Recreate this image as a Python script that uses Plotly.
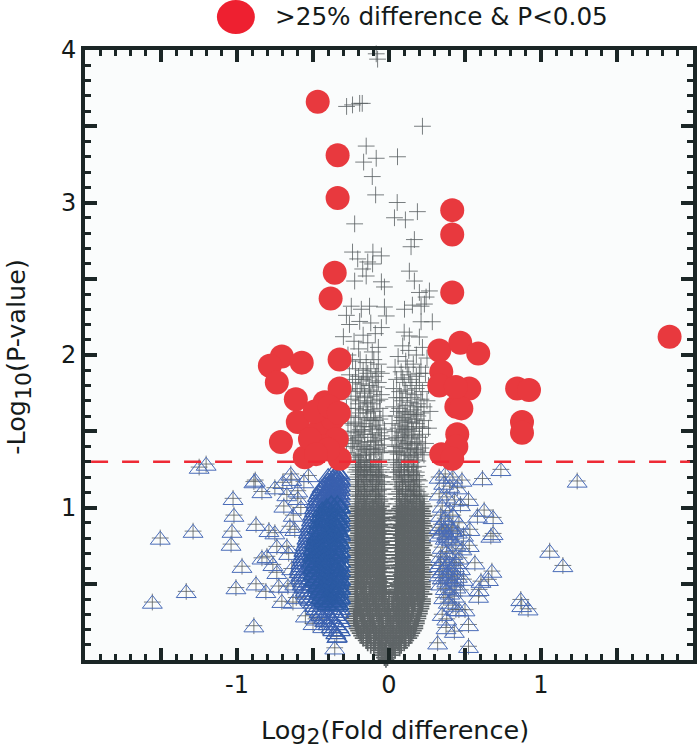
import plotly.graph_objects as go

LEGEND_TEXT = "&gt;25% difference &amp; P&lt;0.05"
SUB = '<sub><span style="font-size:22px">%s</span></sub>'
X_TITLE = "Log" + SUB % "2" + "(Fold difference)"
Y_TITLE = "-Log" + SUB % "10" + "(P-value)"
x_ticks = [-1, 0, 1]
x_labels = ["-1", "0", "1"]
x_half_ticks = [-1.5, -0.5, 0.5, 1.5]
y_ticks = [1, 2, 3, 4]
y_labels = ["1", "2", "3", "4"]
y_half_ticks = [0.5, 1.5, 2.5, 3.5]
threshold = 1.30

red_points = [
 (-.469,3.66),(-.338,3.31),(-.338,3.03),(-.357,2.54),(-.384,2.37),(-.705,1.99),(-.784,1.93),(-.574,1.95),
 (-.325,1.97),(-.738,1.82),(-.613,1.71),(-.60,1.56),(-.711,1.43),(-.423,1.69),(-.325,1.78),(-.554,1.33),
 (-.325,1.32),(-.456,1.51),(-.37,1.58),(-.344,1.45),(-.436,1.40),(-.489,1.63),(-.52,1.45),(-.39,1.66),
 (-.40,1.38),(-.33,1.62),(-.48,1.35),(.416,2.95),(.416,2.79),(.416,2.41),(.331,2.03),(.469,2.08),(.587,2.01),
 (.344,1.89),(1.846,2.12),(.331,1.80),(.528,1.78),(.443,1.66),(.476,1.65),(.843,1.78),(.921,1.77),(.875,1.56),
 (.875,1.49),(.449,1.48),(.443,1.40),(.344,1.35),(.416,1.32),(.44,1.79),
]

tri_left_sparse = [
 (-1.505,.80),(-1.289,.845),(-1.557,.38),(-1.334,.45),(-1.249,1.265),(-1.203,1.285),(-1.026,1.06),(-1.02,.95),
 (-1.033,.845),(-1.039,.76),(-.967,.615),(-1.007,.475),(-.875,.50),(-.81,.45),(-.889,.225),(-.875,.89),
 (-.889,1.17),(-.88,1.18),(-.836,1.105),(-.751,1.13),(-.698,1.165),(-.646,1.22),(-.64,1.185),(-.672,1.085),
 (-.692,1.01),(-.79,.85),(-.751,.835),(-.738,.745),(-.836,.67),(-.803,.68),(-.764,.627),(-.738,.575),
 (-.725,.485),(-.705,.385),(-.652,.877),(-.62,.857),(-.672,.745),(-.665,.485),(-.632,.38),(-.60,1.11),
 (-.56,1.17),(-.53,1.21),(-.60,1.06),(-.61,.41),(-.55,.29),(-.50,.24),(-.344,.155),(-.357,.08),
 (-.436,.22),(-.48,.27),(-.66,.70),(-.63,.95),(-.58,1.0),(-.62,.50),(-.64,.60),
]

tri_right_sparse = [
 (.736,1.25),(.615,1.19),(1.238,1.174),(.523,1.054),(.626,.983),(.582,.944),(.685,.935),(.685,.83),(.67,.813),
 (.532,.857),(.528,.752),(.565,.638),(.677,.583),(.605,.517),(.654,.529),(.593,.463),(.589,.419),(1.057,.714),
 (1.144,.62),(.867,.397),(.873,.358),(.915,.336),(.523,.233),(.523,.09),(.32,.113),(.375,.213),(.43,.189),
 (.44,.332),(.50,.33),
 (.33,1.20),(.37,1.22),(.42,1.20),(.48,1.18),(.36,1.16),(.40,1.14),(.45,1.13),(.33,1.09),(.38,1.07),(.43,1.05),
 (.47,1.02),(.35,1.01),(.40,.98),(.34,.95),(.37,.93),(.42,.95),(.46,.90),(.33,.87),(.36,.86),(.39,.88),(.42,.85),
 (.45,.84),(.49,.82),(.33,.82),(.37,.80),(.41,.79),(.44,.76),(.48,.73),(.35,.74),(.38,.71),(.42,.70),(.46,.67),
 (.34,.68),(.37,.66),(.40,.64),(.43,.62),(.47,.60),(.33,.62),(.36,.60),(.39,.58),(.42,.57),(.45,.55),(.49,.53),
 (.33,.56),(.35,.54),(.38,.52),(.41,.50),(.44,.48),(.47,.46),(.34,.50),(.37,.47),(.40,.44),(.43,.42),(.36,.41),
 (.39,.38),(.42,.36),(.46,.33),(.35,.30),(.38,.27),
 (.345,.89),(.38,.83),(.41,.87),(.35,.84),(.39,.81),(.34,.64),(.38,.62),(.41,.60),(.44,.64),(.35,.58),(.39,.55),(.43,.53),
]

blue_rows = [
 (1.24,[-.34]),(1.22,[-.35,-.32]),(1.20,[-.37,-.33]),(1.18,[-.40,-.36,-.32]),(1.16,[-.42,-.38,-.34]),
 (1.14,[-.44,-.39,-.33]),(1.12,[-.45,-.41,-.36,-.32]),(1.10,[-.46,-.42,-.37,-.33]),(1.08,[-.47,-.43,-.38,-.34]),
 (1.06,[-.47,-.44,-.39,-.35,-.32]),(1.04,[-.48,-.42,-.37,-.33]),(1.02,[-.48,-.44,-.40,-.35]),
 (1.00,[-.49,-.45,-.41,-.36,-.32]),(.98,[-.49,-.43,-.38,-.34]),(.96,[-.50,-.46,-.40,-.35]),
 (.94,[-.50,-.44,-.39,-.33]),(.92,[-.51,-.47,-.42,-.37,-.32]),(.90,[-.51,-.45,-.40,-.35]),
 (.88,[-.52,-.48,-.43,-.38,-.33]),(.86,[-.52,-.46,-.41,-.36]),(.84,[-.53,-.49,-.44,-.39,-.34]),
 (.82,[-.53,-.47,-.42,-.37,-.32]),(.80,[-.54,-.50,-.45,-.40,-.35]),(.78,[-.54,-.48,-.43,-.38,-.33]),
 (.76,[-.55,-.51,-.46,-.41,-.36]),(.74,[-.55,-.49,-.44,-.39,-.34]),(.72,[-.56,-.52,-.47,-.42,-.37,-.32]),
 (.70,[-.56,-.50,-.45,-.40,-.35]),(.68,[-.57,-.53,-.48,-.43,-.38,-.33]),(.66,[-.57,-.51,-.46,-.41,-.36]),
 (.64,[-.58,-.54,-.49,-.44,-.39,-.34]),(.62,[-.58,-.52,-.47,-.42,-.37,-.32]),(.60,[-.59,-.55,-.50,-.45,-.40,-.35]),
 (.58,[-.59,-.53,-.48,-.43,-.38,-.33]),(.56,[-.58,-.54,-.49,-.44,-.39,-.34]),(.54,[-.58,-.52,-.47,-.42,-.37,-.32]),
 (.52,[-.57,-.53,-.48,-.43,-.38,-.33]),(.50,[-.57,-.51,-.46,-.41,-.36]),(.48,[-.56,-.52,-.47,-.42,-.37,-.32]),
 (.46,[-.55,-.50,-.45,-.40,-.35]),(.44,[-.54,-.49,-.44,-.39,-.34]),(.42,[-.53,-.47,-.42,-.37,-.32]),
 (.40,[-.52,-.48,-.43,-.38,-.33]),(.38,[-.50,-.45,-.40,-.35]),(.36,[-.49,-.44,-.39,-.34]),(.34,[-.48,-.42,-.37,-.32]),
 (.32,[-.46,-.41,-.36,-.33]),(.30,[-.45,-.40,-.35]),(.28,[-.43,-.38,-.33]),(.26,[-.42,-.37,-.32]),
 (.24,[-.40,-.35]),(.22,[-.38,-.33]),(.20,[-.37,-.32]),(.18,[-.35]),(.16,[-.34]),
 (1.23,[-.37,-.33]),(1.21,[-.40,-.36]),(1.19,[-.35,-.32]),(1.17,[-.38,-.33]),(1.15,[-.41,-.36,-.32]),(1.13,[-.38,-.34]),
 (1.11,[-.40,-.35]),(1.09,[-.43,-.36,-.32]),(1.07,[-.41,-.37,-.33]),(1.05,[-.45,-.40,-.34]),
]

blue_core_rows = [
 (1.03,[-.38,-.34]),(1.01,[-.41,-.36,-.32]),(.99,[-.44,-.40,-.35]),(.97,[-.42,-.37,-.33]),(.95,[-.45,-.41,-.36,-.32]),
 (.93,[-.43,-.38,-.34]),(.91,[-.46,-.42,-.37,-.33]),(.89,[-.44,-.39,-.35,-.32]),(.87,[-.47,-.43,-.38,-.34]),
 (.85,[-.45,-.40,-.36,-.33]),(.83,[-.46,-.41,-.37,-.32]),(.81,[-.48,-.43,-.39,-.34]),(.79,[-.46,-.42,-.38,-.33]),
 (.77,[-.49,-.44,-.40,-.35,-.32]),(.75,[-.47,-.43,-.37,-.33]),(.73,[-.50,-.45,-.41,-.36]),(.71,[-.48,-.44,-.39,-.34,-.32]),
 (.69,[-.50,-.46,-.42,-.37,-.33]),(.67,[-.49,-.44,-.40,-.35]),(.65,[-.51,-.47,-.43,-.38,-.32]),(.63,[-.49,-.45,-.41,-.36,-.33]),
 (.61,[-.50,-.46,-.42,-.37,-.34]),(.59,[-.48,-.44,-.40,-.35,-.32]),(.57,[-.50,-.45,-.41,-.36,-.33]),(.55,[-.47,-.43,-.39,-.34]),
 (.53,[-.49,-.44,-.40,-.35,-.32]),(.51,[-.46,-.42,-.38,-.33]),(.49,[-.47,-.43,-.39,-.34]),(.47,[-.45,-.41,-.36,-.32]),
 (.45,[-.46,-.42,-.37,-.33]),(.43,[-.44,-.40,-.35]),(.41,[-.45,-.41,-.36,-.32]),(.39,[-.43,-.38,-.34]),(.37,[-.41,-.36,-.33]),
]

gray_sparse = [
 (-.084,3.975),(-.075,3.94),(-.279,3.63),(-.193,3.65),(-.176,3.65),(-.24,3.64),(.22,3.5),(-.15,3.37),(-.084,3.29),
 (.056,3.3),(-.167,3.265),(-.11,3.17),(-.088,3.05),(.054,3.0),(.187,2.94),(.036,2.9),(.108,2.886),(-.226,2.86),
 (.167,2.757),(.145,2.71),(-.24,2.675),(-.106,2.675),(-.05,2.65),(-.14,2.61),(-.108,2.597),(-.206,2.63),
 (-.173,2.564),(-.15,2.518),(.134,2.55),(.167,2.485),(-.05,2.48),(-.03,2.446),(-.226,2.485),(.266,2.42),(.2,2.41),
 (.244,2.38),(.233,2.334),(.102,2.3),(.154,2.327),(.211,2.32),(-.128,2.32),(-.03,2.315),(-.018,2.256),(-.182,2.3),
 (-.248,2.32),(.211,2.218),(.285,2.218),(.1,2.15),(.134,2.125),(.2,2.118),(-.05,2.18),(-.193,2.22),(-.3,2.12),
 (-.28,2.26),(-.26,2.2),(-.12,2.21),(-.09,2.14),(-.17,2.13),(-.23,2.09),(-.14,2.08),(-.07,2.05),(-.2,2.04),
 (-.11,2.02),(.09,2.06),(.13,2.03),(.18,2.0),(.22,2.05),(.25,1.98),(.06,1.99),(.11,1.96),(.16,1.94),(.21,1.92),
 (-.27,2.0),(-.24,1.96),(-.19,1.97),(-.15,1.95),(-.1,1.97),(-.07,1.94),(-.22,1.91),(-.17,1.9),(-.12,1.91),
 (.04,1.92),(.08,1.89),(.13,1.87),(.18,1.86),(.24,1.88),(-.26,1.87),(-.2,1.86),(-.15,1.85),(-.09,1.86),(-.05,1.88),
 (.05,1.84),(.1,1.82),(.15,1.8),(.2,1.82),(.26,1.8),(-.24,1.82),(-.18,1.81),(-.13,1.8),(-.07,1.82),
 (.03,1.78),(.07,1.76),(.12,1.75),(.17,1.74),(.22,1.76),(-.27,1.77),(-.21,1.76),(-.16,1.75),(-.1,1.76),(-.05,1.74),
 (.05,1.72),(.09,1.7),(.14,1.69),(.19,1.68),(.25,1.7),(-.25,1.71),(-.19,1.7),(-.14,1.69),(-.08,1.7),
 (.03,1.66),(.07,1.65),(.11,1.63),(.16,1.64),(.21,1.62),(.27,1.63),(-.28,1.65),(-.22,1.65),(-.17,1.64),(-.12,1.64),(-.06,1.65),
 (.05,1.6),(.09,1.59),(.13,1.58),(.18,1.58),(.23,1.57),(-.25,1.6),(-.2,1.59),(-.15,1.58),(-.1,1.59),(-.04,1.6),
 (.02,1.55),(.07,1.54),(.11,1.53),(.15,1.52),(.2,1.53),(.26,1.52),(-.27,1.55),(-.23,1.54),(-.18,1.53),(-.13,1.53),(-.08,1.54),
 (.04,1.5),(.09,1.49),(.13,1.48),(.17,1.47),(.22,1.48),(-.25,1.5),(-.21,1.49),(-.16,1.48),(-.11,1.48),(-.06,1.49),(-.03,1.51),
 (.02,1.45),(.06,1.44),(.11,1.43),(.15,1.42),(.19,1.43),(.24,1.42),(-.27,1.45),(-.23,1.44),(-.19,1.43),(-.14,1.43),(-.09,1.44),(-.05,1.45),
 (.04,1.4),(.08,1.39),(.12,1.385),(.17,1.38),(.21,1.39),(-.25,1.4),(-.21,1.39),(-.17,1.38),(-.12,1.385),(-.07,1.39),(-.03,1.41),
 (.03,1.36),(.06,1.35),(.1,1.345),(.14,1.34),(.18,1.35),(.23,1.345),(-.28,1.36),(-.23,1.35),(-.19,1.34),(-.15,1.345),(-.1,1.35),(-.06,1.36),
 (-.22,1.47),(-.18,1.41),(-.12,1.46),(-.15,1.37),(-.2,1.33),(-.09,1.38),(.1,1.46),(.14,1.39),(.19,1.37),(.07,1.37),(.16,1.33),(.12,1.42),
 (-.16,1.55),(-.11,1.51),(-.19,1.51),(-.14,1.62),(-.09,1.57),(.12,1.56),(.16,1.5),(.1,1.51),(.14,1.61),(.19,1.6),
 (-.24,1.42),(-.2,1.46),(-.16,1.4),(-.13,1.36),(-.08,1.41),(-.04,1.37),(-.05,1.47),(-.1,1.43),(-.07,1.52),(-.17,1.5),
 (-.22,1.56),(-.12,1.57),(-.06,1.58),(-.19,1.62),(-.1,1.63),(-.15,1.66),(-.2,1.68),(-.11,1.68),(-.06,1.71),(-.16,1.72),
 (-.22,1.73),(-.12,1.73),(-.19,1.78),(-.13,1.77),(-.08,1.79),(-.17,1.84),(-.11,1.83),(-.22,1.84),(-.14,1.88),(-.08,1.89),
 (.05,1.37),(.09,1.41),(.13,1.36),(.18,1.41),(.22,1.36),(.05,1.46),(.08,1.47),(.15,1.45),(.2,1.46),(.06,1.52),
 (.12,1.51),(.18,1.55),(.22,1.52),(.08,1.57),(.15,1.56),(.1,1.62),(.17,1.61),(.06,1.63),(.12,1.67),(.18,1.66),
 (.23,1.66),(.08,1.72),(.15,1.72),(.21,1.71),(.11,1.77),(.18,1.78),(.09,1.85),(.14,1.84),(.2,1.88),(.12,1.92),
]

gray_rows = [
 (0.004,[-.02]),(0.016,[-.03,-.01]),(0.032,[-.04,-.01,.01]),(0.048,[-.05,-.02,.02]),
 (0.064,[-.07,-.03,.01,.04]),(0.080,[-.10,-.06,-.02,.03,.07]),(0.096,[-.12,-.07,-.02,.03,.08]),
 (0.112,[-.14,-.09,-.04,.01,.06,.10]),(0.128,[-.15,-.10,-.05,.0,.05,.11]),(0.144,[-.17,-.12,-.06,.02,.07,.13]),
 (0.160,[-.18,-.13,-.07,-.01,.04,.09,.14]),(0.176,[-.19,-.14,-.08,-.03,.03,.08,.15]),(0.192,[-.20,-.14,-.09,-.02,.05,.10,.16]),
 (0.208,[-.21,-.15,-.10,-.04,.01,.07,.12,.17]),(0.224,[-.21,-.16,-.11,-.05,.0,.06,.11,.17]),(0.240,[-.22,-.17,-.12,-.06,.02,.08,.13,.18]),
 (0.256,[-.22,-.16,-.10,-.04,.03,.09,.14,.18]),(0.272,[-.23,-.18,-.13,-.07,-.01,.05,.10,.19]),(0.288,[-.23,-.17,-.11,-.05,.01,.07,.12,.19]),
 (0.304,[-.22,-.19,-.14,-.08,-.02,.04,.09,.15,.20]),(0.320,[-.21,-.18,-.12,-.06,.0,.06,.11,.16,.20]),(0.336,[-.22,-.20,-.15,-.09,-.03,.03,.08,.13,.21]),
 (0.352,[-.21,-.19,-.13,-.07,-.01,.05,.10,.15,.21]),(0.368,[-.22,-.16,-.10,-.04,.02,.07,.12,.17,.22]),(0.384,[-.21,-.20,-.14,-.08,.0,.06,.11,.16,.22]),
 (0.400,[-.22,-.17,-.11,-.05,.03,.09,.14,.19,.22]),(0.416,[-.21,-.15,-.09,-.02,.05,.10,.15,.20]),(0.432,[-.22,-.18,-.12,-.06,.04,.08,.13,.18,.23]),
 (0.448,[-.21,-.16,-.10,-.04,.06,.11,.16,.21]),(0.464,[-.22,-.19,-.13,-.07,.05,.09,.14,.19,.23]),(0.480,[-.21,-.17,-.11,-.05,.07,.12,.17,.22]),
 (0.496,[-.22,-.18,-.12,-.08,.06,.10,.15,.20,.22]),(0.512,[-.20,-.15,-.10,-.06,.08,.13,.18,.22]),(0.528,[-.22,-.16,-.09,-.05,.07,.11,.16,.21]),
 (0.544,[-.21,-.19,-.14,-.07,.09,.14,.19,.22]),(0.560,[-.22,-.17,-.12,-.08,.08,.12,.17,.22]),(0.576,[-.21,-.18,-.13,-.06,.10,.15,.20,.23]),
 (0.592,[-.20,-.15,-.11,-.07,.09,.13,.18,.22]),(0.608,[-.22,-.16,-.10,-.05,.07,.11,.16,.21]),(0.624,[-.21,-.19,-.14,-.09,.08,.14,.19,.23]),
 (0.640,[-.21,-.17,-.12,-.06,.10,.12,.17,.22]),(0.656,[-.22,-.18,-.13,-.08,.09,.15,.20,.22]),(0.672,[-.20,-.15,-.10,-.07,.07,.13,.18,.21]),
 (0.688,[-.22,-.16,-.11,-.05,.08,.11,.16,.23]),(0.704,[-.21,-.19,-.14,-.09,.10,.14,.19,.22]),(0.720,[-.21,-.17,-.12,-.06,.09,.12,.17,.22]),
 (0.736,[-.22,-.18,-.13,-.08,.07,.15,.20,.21]),(0.752,[-.20,-.15,-.10,-.07,.08,.13,.18,.23]),(0.768,[-.22,-.16,-.11,-.05,.10,.11,.16,.22]),
 (0.784,[-.21,-.19,-.14,-.09,.09,.14,.19,.22]),(0.800,[-.21,-.17,-.12,-.06,.07,.12,.17,.21]),(0.816,[-.22,-.18,-.13,-.08,.08,.15,.20,.23]),
 (0.832,[-.20,-.15,-.10,-.07,.10,.13,.18,.22]),(0.848,[-.22,-.16,-.11,-.05,.09,.11,.16,.22]),(0.864,[-.21,-.19,-.14,-.09,.07,.14,.19,.21]),
 (0.880,[-.21,-.17,-.12,-.06,.08,.12,.17,.23]),(0.896,[-.22,-.18,-.13,-.08,.10,.15,.20,.22]),(0.912,[-.20,-.15,-.10,-.07,.09,.13,.18,.22]),
 (0.928,[-.22,-.16,-.11,-.05,.07,.11,.16,.21]),(0.944,[-.21,-.19,-.14,-.09,.08,.14,.19,.23]),(0.960,[-.21,-.17,-.12,-.06,.10,.12,.17,.22]),
 (0.976,[-.22,-.18,-.13,-.08,.09,.15,.20,.22]),(0.992,[-.20,-.15,-.10,-.07,.07,.13,.18,.21]),(1.008,[-.22,-.16,-.11,-.05,.08,.11,.16,.23]),
 (0.44,[-.03,.045]),(0.46,[-.04,.05]),(0.484,[-.02,.04]),(0.505,[-.035,.055]),(0.53,[-.03,.05]),(0.55,[-.045,.04]),(0.574,[-.03,.055]),
 (0.60,[-.04,.05]),(0.62,[-.035,.06]),(0.645,[-.03,.045]),(0.665,[-.045,.055]),(0.69,[-.03,.05]),(0.71,[-.04,.06]),(0.735,[-.035,.045]),
 (0.755,[-.03,.055]),(0.78,[-.045,.05]),(0.80,[-.035,.06]),(0.825,[-.04,.045]),(0.845,[-.03,.055]),(0.87,[-.045,.05]),(0.89,[-.035,.06]),
 (0.915,[-.04,.05]),(0.935,[-.03,.055]),(0.96,[-.045,.06]),(0.98,[-.035,.05]),
]

gray_rows_upper = [
 (1.024,[-.21,-.19,-.14,-.09,-.04,.05,.10,.14,.19,.22]),(1.040,[-.21,-.17,-.12,-.06,.09,.12,.17,.21]),(1.056,[-.22,-.18,-.13,-.08,-.03,.06,.07,.15,.20]),
 (1.072,[-.20,-.15,-.10,-.07,.08,.13,.18,.23]),(1.088,[-.22,-.16,-.11,-.05,.05,.06,.11,.16,.21]),(1.104,[-.21,-.19,-.14,-.09,.07,.14,.19]),
 (1.120,[-.21,-.17,-.12,-.06,-.04,.05,.09,.12,.17]),(1.136,[-.22,-.18,-.13,-.08,.08,.15,.20]),(1.152,[-.20,-.15,-.10,-.07,-.03,.06,.13,.18]),
 (1.168,[-.22,-.16,-.11,-.05,.04,.09,.11,.16]),(1.184,[-.21,-.19,-.14,-.09,.07,.14,.19]),(1.200,[-.21,-.17,-.12,-.06,-.04,.05,.10,.17]),
 (1.216,[-.20,-.18,-.13,-.08,.08,.15]),(1.232,[-.22,-.15,-.10,-.07,.03,.06,.12,.18]),(1.248,[-.21,-.16,-.11,-.05,.07,.13]),
 (1.264,[-.22,-.19,-.14,-.09,.04,.10,.16]),(1.280,[-.20,-.17,-.12,-.06,.06,.12]),(1.296,[-.21,-.18,-.13,-.08,.03,.08,.15]),
 (1.312,[-.22,-.15,-.10,-.05,.05,.11,.17]),
 (1.03,[-.17,-.08,.12,.18]),(1.05,[-.15,-.06,.1,.16]),(1.08,[-.19,-.09,.14,.2]),(1.11,[-.16,-.07,.11,.17]),(1.14,[-.2,-.11,.09,.16]),
 (1.175,[-.17,-.08,.13,.2]),(1.21,[-.15,-.06,.1,.18]),(1.24,[-.19,-.12,.08,.16]),(1.27,[-.16,-.07,.13,.19]),(1.305,[-.19,-.12,.1,.19]),
]

def flat(rows):
    return [(x, y) for y, xs in rows for x in xs]

TRI_ANCHOR = -0.012   # triangle glyph origin sits below its visual centre
red_x = [p[0] for p in red_points]
red_y = [p[1] for p in red_points]
tri_sparse = tri_left_sparse + tri_right_sparse
tri_rows = flat(blue_rows)
core_pts = flat(blue_core_rows)
sparse_cross = gray_sparse + tri_sparse + flat(gray_rows_upper)
dense_cross = flat(gray_rows)

FONT = "DejaVu Sans"
INK = "#1b2626"
TXT = "#141a1a"
fig = go.Figure()
fig.add_trace(go.Scatter(x=[p[0] for p in sparse_cross], y=[p[1] for p in sparse_cross], mode="markers", cliponaxis=False, showlegend=False,
    marker=dict(symbol="cross-thin", size=12, line=dict(width=1, color="rgba(88,94,96,0.8)"))))
fig.add_trace(go.Scatter(x=[p[0] for p in dense_cross], y=[p[1] for p in dense_cross], mode="markers", cliponaxis=False, showlegend=False,
    marker=dict(symbol="cross-thin", size=12, line=dict(width=1.7, color="#5f6567"))))
fig.add_trace(go.Scatter(x=[p[0] for p in tri_sparse], y=[p[1] + TRI_ANCHOR for p in tri_sparse], mode="markers", cliponaxis=False, showlegend=False,
    marker=dict(symbol="triangle-up-open", size=17.3, color="#4a6cb8", line=dict(width=1, color="#4a6cb8"))))
fig.add_trace(go.Scatter(x=[p[0] for p in tri_rows], y=[p[1] + TRI_ANCHOR for p in tri_rows], mode="markers", cliponaxis=False, showlegend=False,
    marker=dict(symbol="triangle-up-open", size=17.3, color="#3a60ae", line=dict(width=1.25, color="#3a60ae"))))
fig.add_trace(go.Scatter(x=[p[0] for p in core_pts], y=[p[1] + TRI_ANCHOR for p in core_pts], mode="markers", cliponaxis=False, showlegend=False,
    marker=dict(symbol="triangle-up-open", size=17.3, color="#2b5aa3", line=dict(width=1.6, color="#2b5aa3"))))
fig.add_trace(go.Scatter(x=red_x, y=red_y, mode="markers", cliponaxis=False, showlegend=False,
    marker=dict(symbol="circle", size=24, color="#e8393e", line=dict(width=0))))
fig.add_trace(go.Scatter(x=[None], y=[None], xaxis="x2", yaxis="y2", mode="markers", showlegend=False, hoverinfo="skip"))

frame = dict(showline=True, linewidth=4, linecolor=INK, mirror="ticks", showgrid=False, zeroline=False, automargin=False,
             ticks="inside", tickcolor=INK, tickwidth=4, ticklen=12)
axis_main = dict(frame, tickmode="array", tickangle=0, tickfont=dict(family=FONT, size=24, color=TXT),
    minor=dict(ticks="inside", ticklen=6, tickwidth=3, tickcolor=INK, dtick=0.1, tick0=0, showgrid=False))
axis_half = dict(frame, tickmode="array", showticklabels=False)

def px_x(px):
    return (px - 85) / 608.5

def px_y(py):
    return (660.5 - py) / 610.5

fig.update_layout(
    width=700, height=751, autosize=False, paper_bgcolor="white", plot_bgcolor="#fafcfc", template="none",
    margin=dict(l=85, r=6.5, t=50, b=90.5),
    xaxis=dict(axis_main, range=[-2, 2], tickvals=x_ticks, ticktext=x_labels),
    yaxis=dict(axis_main, range=[0, 4], tickvals=y_ticks, ticktext=y_labels),
    xaxis2=dict(axis_half, range=[-2, 2], tickvals=x_half_ticks, overlaying="x", anchor="y2"),
    yaxis2=dict(axis_half, range=[0, 4], tickvals=y_half_ticks, overlaying="y", anchor="x2"),
    shapes=[
        dict(type="line", xref="paper", x0=0.01, x1=0.995, yref="y", y0=threshold, y1=threshold, layer="above",
             line=dict(color="#ee2a35", width=2.4, dash="17px,14px")),
        dict(type="circle", xref="paper", yref="paper", x0=px_x(217), x1=px_x(255), y0=px_y(34), y1=px_y(0),
             fillcolor="#ee2030", line=dict(width=0)),
    ],
    annotations=[
        dict(text=LEGEND_TEXT, xref="paper", yref="paper", x=px_x(273), y=px_y(16), xanchor="left", yanchor="middle",
             showarrow=False, font=dict(family=FONT, size=24.7, color=TXT)),
        dict(text=X_TITLE, xref="paper", yref="paper", x=px_x(395), y=px_y(733), xanchor="center", yanchor="middle",
             showarrow=False, font=dict(family=FONT, size=25.5, color=TXT)),
        dict(text=Y_TITLE, xref="paper", yref="paper", x=px_x(18), y=px_y(357), xanchor="center", yanchor="middle",
             textangle=-90, showarrow=False, font=dict(family=FONT, size=25.5, color=TXT)),
    ],
)
fig.write_html("out.html", config=dict(displayModeBar=False), post_script="document.body.style.margin='0';")
